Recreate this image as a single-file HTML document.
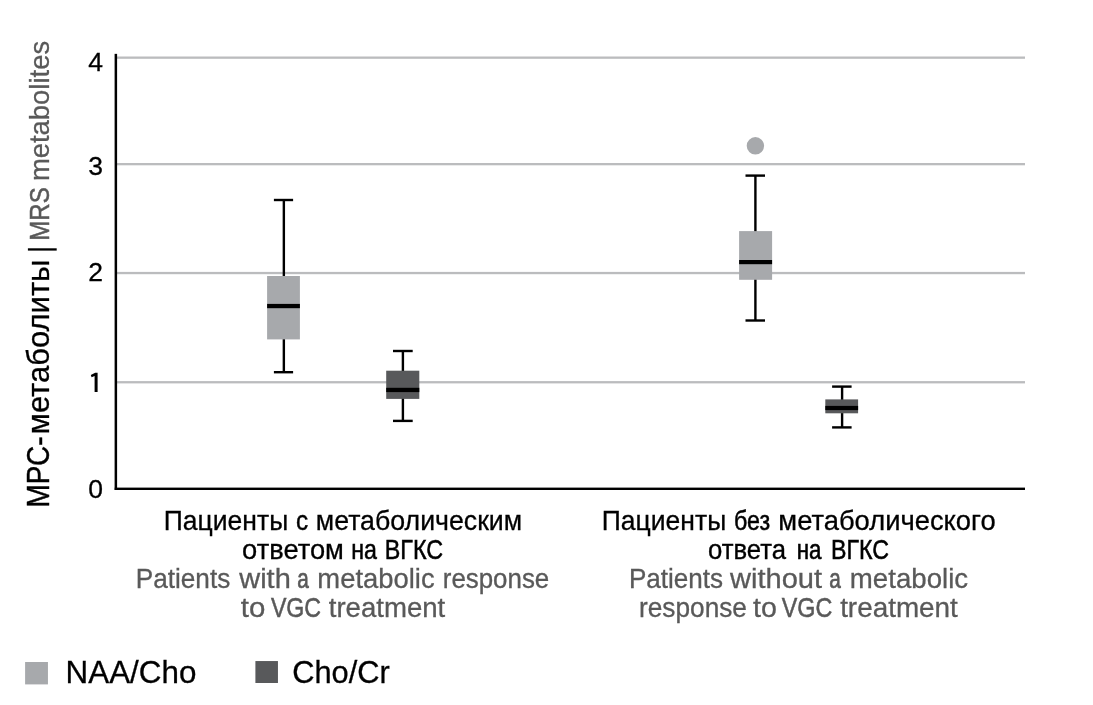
<!DOCTYPE html>
<html lang="ru">
<head>
<meta charset="utf-8">
<title>MRS metabolites</title>
<style>
html,body{margin:0;padding:0;background:#fff;}
body{width:1093px;height:705px;position:relative;overflow:hidden;font-family:"Liberation Sans",sans-serif;}
svg{position:absolute;left:0;top:0;}
#txt{position:absolute;left:0;top:0;width:1093px;height:705px;filter:grayscale(1);}
.t{position:absolute;white-space:nowrap;line-height:1;-webkit-text-stroke:0.3px currentColor;}
.v{transform-origin:0 0;}
</style>
</head>
<body>
<svg width="1093" height="705" viewBox="0 0 1093 705">
<rect x="116.00" y="56.50" width="909.00" height="2.30" fill="#bbbcbe"/>
<rect x="116.00" y="163.00" width="909.00" height="2.30" fill="#bbbcbe"/>
<rect x="116.00" y="271.90" width="909.00" height="2.30" fill="#bbbcbe"/>
<rect x="116.00" y="381.10" width="909.00" height="2.30" fill="#bbbcbe"/>
<rect x="282.65" y="200.00" width="2.40" height="172.20" fill="#000"/>
<rect x="273.90" y="198.80" width="19.20" height="2.40" fill="#000"/>
<rect x="273.90" y="371.00" width="19.20" height="2.40" fill="#000"/>
<rect x="267.10" y="276.00" width="32.80" height="63.40" fill="#a7a9ac"/>
<rect x="267.10" y="303.90" width="32.80" height="4.30" fill="#000"/>
<rect x="401.70" y="351.00" width="2.40" height="69.90" fill="#000"/>
<rect x="393.00" y="349.80" width="19.70" height="2.40" fill="#000"/>
<rect x="393.00" y="419.70" width="19.70" height="2.40" fill="#000"/>
<rect x="386.20" y="370.70" width="33.10" height="28.20" fill="#58595b"/>
<rect x="386.20" y="387.80" width="33.10" height="4.30" fill="#000"/>
<rect x="754.20" y="175.60" width="2.40" height="144.90" fill="#000"/>
<rect x="745.50" y="174.40" width="19.50" height="2.40" fill="#000"/>
<rect x="745.50" y="319.30" width="19.50" height="2.40" fill="#000"/>
<rect x="739.10" y="231.10" width="33.00" height="48.70" fill="#a7a9ac"/>
<rect x="739.10" y="260.00" width="33.00" height="4.20" fill="#000"/>
<rect x="840.90" y="386.60" width="2.40" height="40.80" fill="#000"/>
<rect x="832.10" y="385.40" width="19.50" height="2.40" fill="#000"/>
<rect x="832.10" y="426.20" width="19.50" height="2.40" fill="#000"/>
<rect x="825.30" y="399.40" width="32.80" height="13.90" fill="#58595b"/>
<rect x="825.30" y="405.90" width="32.80" height="4.20" fill="#000"/>
<circle cx="755.4" cy="145.8" r="8.7" fill="#a7a9ac"/>
<rect x="114.60" y="53.85" width="2.50" height="436.15" fill="#000"/>
<rect x="114.70" y="487.60" width="910.30" height="2.40" fill="#000"/>
<rect x="25.10" y="662.00" width="22.85" height="22.40" fill="#a7a9ac"/>
<rect x="255.40" y="661.05" width="22.55" height="21.95" fill="#58595b"/>
<rect x="27.90" y="248.30" width="28.80" height="2.30" fill="#000"/>
<polygon fill="#000" points="97.6,372.8 95.2,372.8 90.8,375.0 91.6,377.3 94.6,375.9 94.6,392.0 97.6,392.0"/>
</svg>
<div id="txt">
<div class="t" style="left:95.50px;top:49.37px;font-size:26.5px;color:#000;transform:translateX(-50%) scaleX(1.0000)">4</div>
<div class="t" style="left:95.50px;top:152.57px;font-size:26.5px;color:#000;transform:translateX(-50%) scaleX(1.0000)">3</div>
<div class="t" style="left:95.50px;top:258.57px;font-size:26.5px;color:#000;transform:translateX(-50%) scaleX(1.0000)">2</div>
<div class="t" style="left:95.50px;top:369.47px;font-size:26.5px;color:transparent;transform:translateX(-50%) scaleX(1.0000)">1</div>
<div class="t" style="left:95.50px;top:476.37px;font-size:26.5px;color:#000;transform:translateX(-50%) scaleX(1.0000)">0</div>
<div class="t" style="left:226.46px;top:506.52px;font-size:27.5px;color:#000;transform:translateX(-50%) scaleX(0.9643)">Пациенты</div>
<div class="t" style="left:302.43px;top:506.52px;font-size:27.5px;color:#000;-webkit-text-stroke-width:0.46px;transform:translateX(-50%) scaleX(0.8820)">с</div>
<div class="t" style="left:419.49px;top:506.52px;font-size:27.5px;color:#000;transform:translateX(-50%) scaleX(0.9713)">метаболическим</div>
<div class="t" style="left:293.21px;top:535.52px;font-size:27.5px;color:#000;transform:translateX(-50%) scaleX(0.9934)">ответом</div>
<div class="t" style="left:363.84px;top:535.52px;font-size:27.5px;color:#000;-webkit-text-stroke-width:0.53px;transform:translateX(-50%) scaleX(0.8442)">на</div>
<div class="t" style="left:414.45px;top:535.52px;font-size:27.5px;color:#000;-webkit-text-stroke-width:0.52px;transform:translateX(-50%) scaleX(0.8483)">ВГКС</div>
<div class="t" style="left:183.47px;top:564.52px;font-size:27.5px;color:#58595b;-webkit-text-stroke-width:0.32px;transform:translateX(-50%) scaleX(0.9516)">Patients</div>
<div class="t" style="left:264.56px;top:564.52px;font-size:27.5px;color:#58595b;transform:translateX(-50%) scaleX(1.0545)">with</div>
<div class="t" style="left:302.91px;top:564.52px;font-size:27.5px;color:#58595b;-webkit-text-stroke-width:0.71px;transform:translateX(-50%) scaleX(0.7538)">a</div>
<div class="t" style="left:375.60px;top:564.52px;font-size:27.5px;color:#58595b;transform:translateX(-50%) scaleX(0.9965)">metabolic</div>
<div class="t" style="left:495.85px;top:564.52px;font-size:27.5px;color:#58595b;-webkit-text-stroke-width:0.34px;transform:translateX(-50%) scaleX(0.9410)">response</div>
<div class="t" style="left:253.23px;top:593.52px;font-size:27.5px;color:#58595b;transform:translateX(-50%) scaleX(1.0705)">to</div>
<div class="t" style="left:296.17px;top:593.52px;font-size:27.5px;color:#58595b;-webkit-text-stroke-width:0.53px;transform:translateX(-50%) scaleX(0.8427)">VGC</div>
<div class="t" style="left:386.51px;top:593.52px;font-size:27.5px;color:#58595b;transform:translateX(-50%) scaleX(1.0034)">treatment</div>
<div class="t" style="left:663.84px;top:506.52px;font-size:27.5px;color:#000;transform:translateX(-50%) scaleX(0.9643)">Пациенты</div>
<div class="t" style="left:752.40px;top:506.52px;font-size:27.5px;color:#000;-webkit-text-stroke-width:0.53px;transform:translateX(-50%) scaleX(0.8433)">без</div>
<div class="t" style="left:886.62px;top:506.52px;font-size:27.5px;color:#000;transform:translateX(-50%) scaleX(0.9948)">метаболического</div>
<div class="t" style="left:747.16px;top:535.52px;font-size:27.5px;color:#000;-webkit-text-stroke-width:0.35px;transform:translateX(-50%) scaleX(0.9341)">ответа</div>
<div class="t" style="left:808.82px;top:535.52px;font-size:27.5px;color:#000;-webkit-text-stroke-width:0.60px;transform:translateX(-50%) scaleX(0.8117)">на</div>
<div class="t" style="left:860.42px;top:535.52px;font-size:27.5px;color:#000;-webkit-text-stroke-width:0.54px;transform:translateX(-50%) scaleX(0.8424)">ВГКС</div>
<div class="t" style="left:675.96px;top:564.52px;font-size:27.5px;color:#58595b;-webkit-text-stroke-width:0.33px;transform:translateX(-50%) scaleX(0.9474)">Patients</div>
<div class="t" style="left:776.21px;top:564.52px;font-size:27.5px;color:#58595b;transform:translateX(-50%) scaleX(1.0570)">without</div>
<div class="t" style="left:835.16px;top:564.52px;font-size:27.5px;color:#58595b;-webkit-text-stroke-width:0.71px;transform:translateX(-50%) scaleX(0.7540)">a</div>
<div class="t" style="left:908.83px;top:564.52px;font-size:27.5px;color:#58595b;transform:translateX(-50%) scaleX(1.0052)">metabolic</div>
<div class="t" style="left:692.51px;top:593.52px;font-size:27.5px;color:#58595b;-webkit-text-stroke-width:0.31px;transform:translateX(-50%) scaleX(0.9539)">response</div>
<div class="t" style="left:765.14px;top:593.52px;font-size:27.5px;color:#58595b;transform:translateX(-50%) scaleX(1.0403)">to</div>
<div class="t" style="left:807.22px;top:593.52px;font-size:27.5px;color:#58595b;-webkit-text-stroke-width:0.52px;transform:translateX(-50%) scaleX(0.8478)">VGC</div>
<div class="t" style="left:898.58px;top:593.52px;font-size:27.5px;color:#58595b;transform:translateX(-50%) scaleX(1.0135)">treatment</div>
<div class="t" style="left:130.58px;top:657.39px;font-size:31.2px;color:#000;transform:translateX(-50%) scaleX(1.0057)">NAA/Cho</div>
<div class="t" style="left:341.45px;top:657.39px;font-size:31.2px;color:#000;transform:translateX(-50%) scaleX(0.9872)">Cho/Cr</div>
<div class="t v" style="left:22.94px;top:471.93px;font-size:31.5px;color:#000;-webkit-text-stroke-width:0.45px;transform:rotate(-90deg) scaleX(0.8854) translateX(-50%)">МРС-</div>
<div class="t v" style="left:22.94px;top:347.43px;font-size:31.5px;color:#000;transform:rotate(-90deg) scaleX(0.9840) translateX(-50%)">метаболиты</div>
<div class="t v" style="left:25.90px;top:214.12px;font-size:28.0px;color:#58595b;-webkit-text-stroke-width:0.51px;transform:rotate(-90deg) scaleX(0.8571) translateX(-50%)">MRS</div>
<div class="t v" style="left:25.90px;top:111.37px;font-size:28.0px;color:#58595b;transform:rotate(-90deg) scaleX(0.9793) translateX(-50%)">metabolites</div>
</div>
</body>
</html>
